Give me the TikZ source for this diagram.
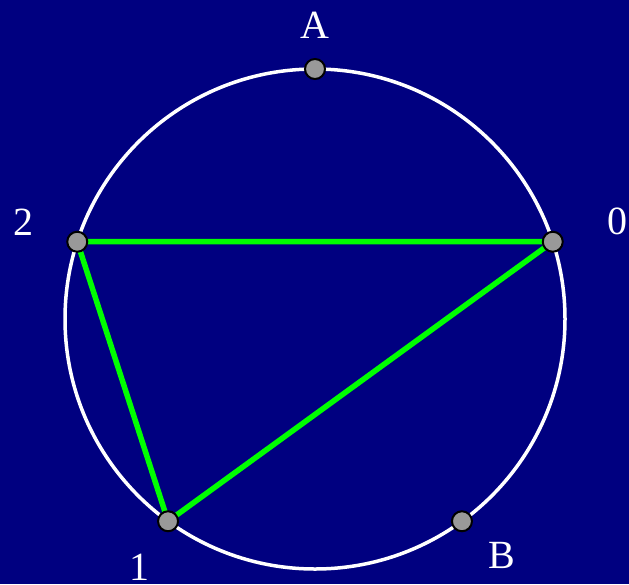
\documentclass[tikz,border=0pt]{standalone}
\usepackage{fontspec}
\setmainfont{Liberation Serif}
\definecolor{navy}{HTML}{000080}
\definecolor{dotgray}{HTML}{999999}
\begin{document}
\begin{tikzpicture}[x=1pt,y=-1pt,
  dot/.style={circle,draw=black,line width=2pt,fill=dotgray,minimum size=20pt,inner sep=0pt},
  lbl/.style={text=white,font=\fontsize{40}{41}\selectfont,inner sep=0pt},
  edge/.style={draw=green,line width=5.5pt}]
\fill[navy] (0,0) rectangle (629,584);
\useasboundingbox (0,0) rectangle (629,584);
\coordinate (c) at (315,319);
\draw[white,line width=3.5pt] (c) circle[radius=250];
\path (c) ++(18:250 and -250) coordinate (p0);
\path (c) ++(162:250 and -250) coordinate (p2);
\path (c) ++(234:250 and -250) coordinate (p1);
\path (c) ++(306:250 and -250) coordinate (pB);
\path (c) ++(90:250 and -250) coordinate (pA);
\draw[edge] (p2) -- (p0) -- (p1) -- cycle;
\node[dot] (n0) at (p0) {};
\node[dot] (n1) at (p1) {};
\node[dot] (n2) at (p2) {};
\node[dot] (nA) at (pA) {};
\node[dot] (nB) at (pB) {};
\node[lbl] (lA) at (315,25) {A};
\node[lbl] (l2) at (23,222) {2};
\node[lbl] (l0) at (617,221) {0};
\node[lbl] (l1) at (139,567) {1};
\node[lbl] (lB) at (502,555) {B};
\end{tikzpicture}
\end{document}
